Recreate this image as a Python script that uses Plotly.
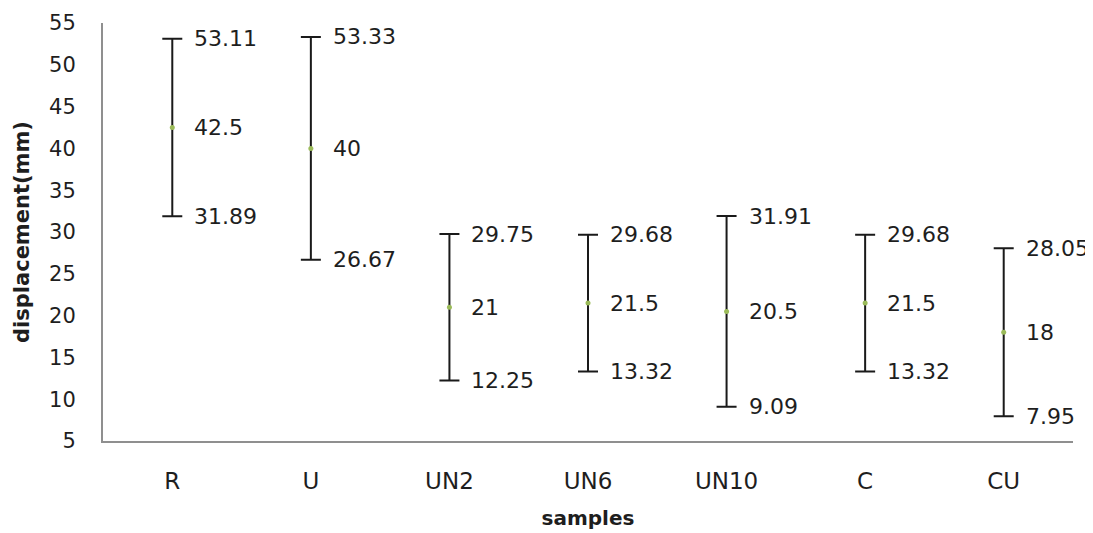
import plotly.graph_objects as go

samples = ["R", "U", "UN2", "UN6", "UN10", "C", "CU"]
high = [53.11, 53.33, 29.75, 29.68, 31.91, 29.68, 28.05]
mid = [42.5, 40, 21, 21.5, 20.5, 21.5, 18]
low = [31.89, 26.67, 12.25, 13.32, 9.09, 13.32, 7.95]
y_ticks = [5, 10, 15, 20, 25, 30, 35, 40, 45, 50, 55]

FONT = "DejaVu Sans"
TXT = "#1e1e1e"

fig = go.Figure()
fig.add_trace(go.Scatter(
    x=samples, y=mid, mode="markers",
    marker=dict(color="#9bbb59", size=5),
    error_y=dict(
        type="data", symmetric=False,
        array=[h - m for h, m in zip(high, mid)],
        arrayminus=[m - l for m, l in zip(mid, low)],
        color="#1a1a1a", thickness=2, width=10,
    ),
    showlegend=False, hoverinfo="skip",
))

def fmt(v):
    return ("%g" % v)

for s, h, m, l in zip(samples, high, mid, low):
    for v in (h, m, l):
        fig.add_annotation(
            x=s, y=v, xref="x", yref="y", text=fmt(v), showarrow=False,
            xanchor="left", yanchor="middle", xshift=20,
            font=dict(family=FONT, size=22, color=TXT),
        )

fig.update_layout(
    width=1085, height=525,
    margin=dict(l=95, r=20, t=15, b=92, autoexpand=False),
    paper_bgcolor="white", plot_bgcolor="white",
    font=dict(family=FONT, size=22, color=TXT),
    xaxis=dict(
        range=[-0.5, 6.5], showgrid=False, zeroline=False, automargin=False,
        showline=True, linecolor="#8f8f8f", linewidth=2,
        ticks="", ticklabelstandoff=18,
        tickfont=dict(family=FONT, size=23, color=TXT),
        title=dict(text="<b>samples</b>", font=dict(family=FONT, size=20, color=TXT), standoff=18),
    ),
    yaxis=dict(
        range=[5, 55], tickvals=y_ticks, showgrid=False, zeroline=False, automargin=False,
        showline=True, linecolor="#8f8f8f", linewidth=2,
        ticks="", ticklabelstandoff=21,
        tickfont=dict(family=FONT, size=21, color=TXT),
        title=dict(text="<b>displacement(mm)</b>", font=dict(family=FONT, size=21, color=TXT), standoff=14),
    ),
)

fig.write_html("out.html")
